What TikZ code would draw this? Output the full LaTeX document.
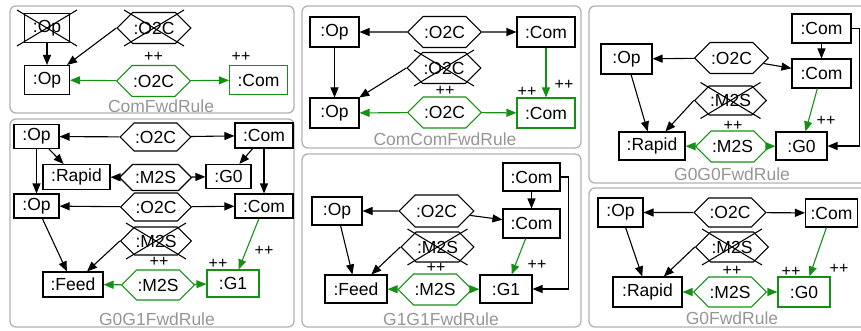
\documentclass[tikz,border=0pt]{standalone}
\usepackage{fontspec}
\setmainfont{Liberation Sans}
\usetikzlibrary{arrows.meta,shapes.symbols}

\definecolor{crgreen}{RGB}{20,145,20}
\definecolor{framegray}{RGB}{178,178,178}
\definecolor{namegray}{RGB}{150,150,150}

\newcommand{\nfont}{\fontsize{17.5pt}{19pt}\selectfont}
\newcommand{\pfont}{\fontsize{16pt}{18pt}\selectfont}
% X over a node that the rule deletes
\newcommand{\crossnode}[1]{%
  \draw (#1) ++(-30,-18) -- ++(60,36) (#1) ++(30,-18) -- ++(-60,36);}

\begin{document}
\begin{tikzpicture}[x=1pt,y=-1pt,line width=1.1pt,>={Triangle[length=10pt,width=8pt]},
  obj/.style={draw,rectangle,inner sep=1pt,minimum width=45pt,minimum height=29pt,font=\nfont},
  rel/.style={draw,signal,signal to=east and west,signal pointer angle=90,
    inner sep=1pt,minimum width=66pt,minimum height=31pt,font=\nfont},
  sz/.style 2 args={minimum width=#1pt,minimum height=#2pt},
  crt/.style={draw=crgreen},
  link/.style={->},
  plus/.style={inner sep=0pt,font=\pfont},
  rname/.style={text=namegray,inner sep=0pt,font=\nfont},
  rule/.style={draw=framegray,line width=1.3pt,rounded corners=6pt}]
\useasboundingbox (0,0) rectangle (861,331);
\clip (0,0) rectangle (861,331);

% frames
\draw[rule] (10,6) rectangle (294,113);
\draw[rule] (302,6) rectangle (581,148);
\draw[rule] (589,6) rectangle (875,183);
\draw[rule] (10,119) rectangle (294,327);
\draw[rule] (302,154) rectangle (581,327);
\draw[rule] (589,188) rectangle (875,327);

% ComFwdRule
\node[obj] (op1x) at (47,28) {:Op};
\node[rel] (oc1x) at (154,28) {:O2C};
\node[obj] (op1) at (47,80) {:Op};
\node[rel,crt] (oc1) at (153.5,81) {:O2C};
\node[obj,crt,sz={58}{29}] (co1) at (258.5,80) {:Com};
\crossnode{op1x}
\crossnode{oc1x}
\draw[link] (op1x) -- (op1);
\draw[link] (oc1x.west) -- (op1);
\draw[link,crt] (oc1) -- (op1);
\draw[link,crt] (oc1) -- (co1);
\node[plus] at (153.5,57) {++};
\node[plus] at (241,57) {++};
\node[rname] at (161,106) {ComFwdRule};

% ComComFwdRule
\node[obj,sz={49}{30}] (op2a) at (334.5,32) {:Op};
\node[rel] (oc2a) at (444.5,32) {:O2C};
\node[obj,sz={58}{30}] (co2a) at (546,32) {:Com};
\node[rel] (oc2x) at (444,68) {:O2C};
\node[obj,sz={49}{30}] (op2b) at (334.5,113) {:Op};
\node[rel,crt] (oc2b) at (444.5,112.5) {:O2C};
\node[obj,crt,sz={58}{30}] (co2b) at (546,113) {:Com};
\crossnode{oc2x}
\draw[link] (oc2a) -- (op2a);
\draw[link] (oc2a) -- (co2a);
\draw[link] (op2a) -- (op2b);
\draw[link] (oc2x.west) -- (op2b);
\draw[link,crt] (co2a) -- (co2b);
\draw[link,crt] (oc2b) -- (op2b);
\draw[link,crt] (oc2b) -- (co2b);
\node[plus] at (445,90.5) {++};
\node[plus] at (527,92) {++};
\node[plus] at (564,85) {++};
\node[rname] at (445,139) {ComComFwdRule};

% G0G0FwdRule
\node[obj,sz={59}{29}] (co3a) at (821.5,28.5) {:Com};
\node[obj,sz={51}{30}] (op3) at (626.5,59) {:Op};
\node[rel] (oc3) at (731.5,58) {:O2C};
\node[obj,sz={59}{29}] (co3b) at (821.5,73.5) {:Com};
\node[rel,sz={59}{29}] (m3x) at (730.5,100.5) {:M2S};
\node[obj,sz={66}{28}] (ra3) at (652,146) {:Rapid};
\node[rel,crt,sz={59}{31}] (m3) at (732.5,146.5) {:M2S};
\node[obj,sz={51}{28}] (g3) at (801.5,146) {:G0};
\crossnode{m3x}
\draw[link] (co3a) -- (co3b);
\draw[link] (oc3) -- (op3);
\draw[link] (oc3) -- (co3b);
\draw[link] (op3) -- (ra3);
\draw[link] (m3x.west) -- (ra3);
\draw[link] (co3a.east) -- ++(8,0) |- (g3.east);
\draw[link,crt] (co3b) -- (g3);
\draw[link,crt] (m3) -- (ra3);
\draw[link,crt] (m3) -- (g3);
\node[plus] at (733,126) {++};
\node[plus] at (826,121) {++};
\node[rname] at (732,174) {G0G0FwdRule};

% G0G1FwdRule
\node[obj,sz={45}{24}] (op4a) at (36.5,136.5) {:Op};
\node[rel,sz={65}{28}] (oc4a) at (155.5,137) {:O2C};
\node[obj,sz={58}{25}] (co4a) at (264,135.5) {:Com};
\node[obj,sz={67}{25}] (ra4) at (76.5,177) {:Rapid};
\node[rel,sz={72}{26}] (m4a) at (155.5,177.5) {:M2S};
\node[obj,sz={45}{24}] (g4a) at (228.5,176.5) {:G0};
\node[obj,sz={45}{24}] (op4b) at (36.5,206) {:Op};
\node[rel,sz={67}{28}] (oc4b) at (156,207) {:O2C};
\node[obj,sz={58}{24}] (co4b) at (264,206) {:Com};
\node[rel,sz={58}{28}] (m4x) at (156,241) {:M2S};
\node[obj,sz={60}{25}] (fe4) at (73,284.5) {:Feed};
\node[rel,crt,sz={60}{30}] (m4b) at (158,285) {:M2S};
\node[obj,crt,sz={52}{27}] (g4b) at (233,283.5) {:G1};
\crossnode{m4x}
\draw[link] (oc4a) -- (op4a);
\draw[link] (oc4a) -- (co4a);
\draw[link] (op4a) -- (ra4);
\draw[link] (op4a) -- (op4b);
\draw[link] (m4a) -- (ra4);
\draw[link] (m4a) -- (g4a);
\draw[link] (co4a) -- (g4a);
\draw[link] (co4a) -- (co4b);
\draw[link] (oc4b) -- (op4b);
\draw[link] (oc4b) -- (co4b);
\draw[link] (op4b) -- (fe4);
\draw[link] (m4x.west) -- (fe4);
\draw[link,crt] (co4b) -- (g4b);
\draw[link,crt] (m4b) -- (fe4);
\draw[link,crt] (m4b) -- (g4b);
\node[plus] at (264,251) {++};
\node[plus] at (218,264) {++};
\node[plus] at (159,262) {++};
\node[rname] at (157,319) {G0G1FwdRule};

% G1G1FwdRule
\node[obj,sz={57}{28}] (co5a) at (531.5,177) {:Com};
\node[obj,sz={50}{28}] (op5) at (337,211) {:Op};
\node[rel,sz={65}{32}] (oc5) at (436.5,211) {:O2C};
\node[obj,sz={57}{29}] (co5b) at (531.5,223.5) {:Com};
\node[rel,sz={61}{30}] (m5x) at (437.5,247) {:M2S};
\node[obj,sz={62}{28}] (fe5) at (356,289) {:Feed};
\node[rel,crt,sz={60}{31}] (m5) at (435,289.5) {:M2S};
\node[obj,sz={52}{28}] (g5) at (506,289) {:G1};
\crossnode{m5x}
\draw[link] (co5a) -- (co5b);
\draw[link] (oc5) -- (op5);
\draw[link] (oc5) -- (co5b);
\draw[link] (op5) -- (fe5);
\draw[link] (m5x.west) -- (fe5);
\draw[link] (co5a.east) -- ++(8,0) |- (g5.east);
\draw[link,crt] (co5b) -- (g5);
\draw[link,crt] (m5) -- (fe5);
\draw[link,crt] (m5) -- (g5);
\node[plus] at (436,268) {++};
\node[plus] at (537,265) {++};
\node[rname] at (441,319) {G1G1FwdRule};

% G0FwdRule
\node[obj,sz={45}{29}] (op6) at (620.5,212.5) {:Op};
\node[rel,sz={66}{29}] (oc6) at (730,212.5) {:O2C};
\node[obj,sz={52}{28}] (co6) at (831.5,213) {:Com};
\node[rel,sz={60}{30}] (m6x) at (732,247) {:M2S};
\node[obj,sz={69}{30}] (ra6) at (647.5,292) {:Rapid};
\node[rel,crt,sz={60}{30}] (m6) at (730,292) {:M2S};
\node[obj,crt,sz={52}{30}] (g6) at (804,292) {:G0};
\crossnode{m6x}
\draw[link] (oc6) -- (op6);
\draw[link] (oc6) -- (co6);
\draw[link] (op6) -- (ra6);
\draw[link] (m6x.west) -- (ra6);
\draw[link,crt] (co6) -- (g6);
\draw[link,crt] (m6) -- (ra6);
\draw[link,crt] (m6) -- (g6);
\node[plus] at (732,271) {++};
\node[plus] at (791,272) {++};
\node[plus] at (839,269) {++};
\node[rname] at (732,318) {G0FwdRule};
\end{tikzpicture}
\end{document}
